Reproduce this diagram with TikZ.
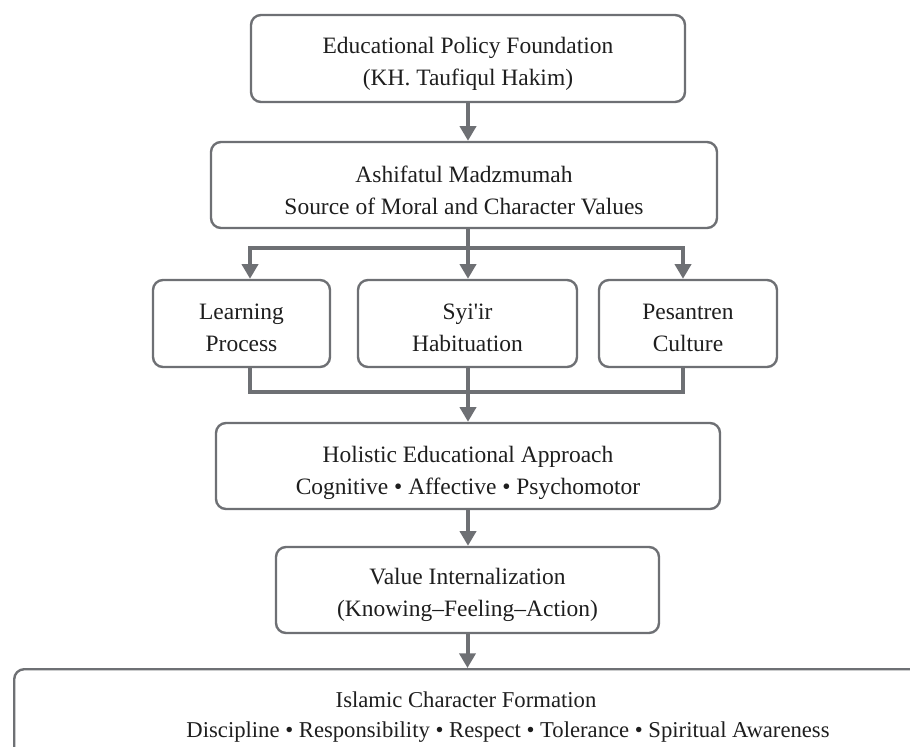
\documentclass[tikz,border=0pt]{standalone}
\usepackage{fontspec}
\setmainfont{Liberation Serif}
\usetikzlibrary{arrows.meta}
\definecolor{linegray}{RGB}{110,112,116}
\definecolor{txt}{RGB}{30,30,30}
\tikzset{
  box/.style={draw=linegray, line width=1.8pt, rounded corners=7.5pt, fill=white, inner sep=0pt},
  boxtext/.style={align=center, inner sep=0pt, text=txt, font=\fontsize{17.6}{24}\selectfont},
  conn/.style={draw=linegray, line width=3pt},
  arr/.style={conn, -{Triangle[length=11pt,width=12pt]}},
  lbl/.style={text=txt, font=\fontsize{17}{24}\selectfont, inner sep=0pt}
}
\begin{document}
\begin{tikzpicture}[x=0.75pt,y=-0.75pt]
\clip (0,0) rectangle (910,746);
\node[box, minimum width=325.5pt, minimum height=65.25pt] (b1) at (468,58.5) {};
\node[box, minimum width=379.5pt, minimum height=64.5pt] (b2) at (464,185) {};
\node[box, minimum width=132.75pt, minimum height=65.25pt] (lp) at (241.5,323.5) {};
\node[box, minimum width=164.25pt, minimum height=65.25pt] (sy) at (467.5,323.5) {};
\node[box, minimum width=133.5pt, minimum height=65.25pt] (pc) at (688,323.5) {};
\node[box, minimum width=378pt, minimum height=64.5pt] (ho) at (468,466) {};
\node[box, minimum width=287.25pt, minimum height=64.5pt] (va) at (467.5,590) {};
\node[box, minimum width=750pt, minimum height=90pt, anchor=north west] (bt) at (13,668) {};
\node[boxtext] (b1t) at ([yshift=-4pt]b1.center) {Educational Policy Foundation\\(KH. Taufiqul Hakim)};
\node[boxtext] (b2t) at ([yshift=-4pt]b2.center) {Ashifatul Madzmumah\\Source of Moral and Character Values};
\node[boxtext] (lpt) at ([yshift=-3pt]lp.center) {Learning\\Process};
\node[boxtext] (syt) at ([yshift=-3pt]sy.center) {Syi\textquotesingle ir\\Habituation};
\node[boxtext] (pct) at ([yshift=-3pt]pc.center) {Pesantren\\Culture};
\node[boxtext] (hot) at ([yshift=-5.5pt]ho.center) {Holistic Educational Approach\\Cognitive • Affective • Psychomotor};
\node[boxtext] (vat) at ([yshift=-4pt]va.center) {Value Internalization\\(Knowing–Feeling–Action)};
\node[lbl] (bt1) at (466,700) {Islamic Character Formation};
\node[lbl] (bt2) at (508,732) {Discipline • Responsibility • Respect • Tolerance • Spiritual Awareness};
\coordinate (t) at (468,248);
\coordinate (busL) at (250,248);
\coordinate (busR) at (683,248);
\coordinate (lbL) at (250,392);
\coordinate (lbR) at (683,392);
\draw[arr] (b1.south) -- (b1.south |- b2.north);
\draw[arr] (b2.south -| t) -- (sy.north -| t);
\draw[arr] (t) -| (busL |- lp.north);
\draw[arr] (t) -| (busR |- pc.north);
\draw[conn] (lp.south -| lbL) |- (lbR) -- (pc.south -| lbR);
\draw[arr] (sy.south -| t) -- (ho.north -| t);
\draw[arr] (ho.south) -- (ho.south |- va.north);
\draw[arr] (va.south) -- (va.south |- bt.north);
\end{tikzpicture}
\end{document}
